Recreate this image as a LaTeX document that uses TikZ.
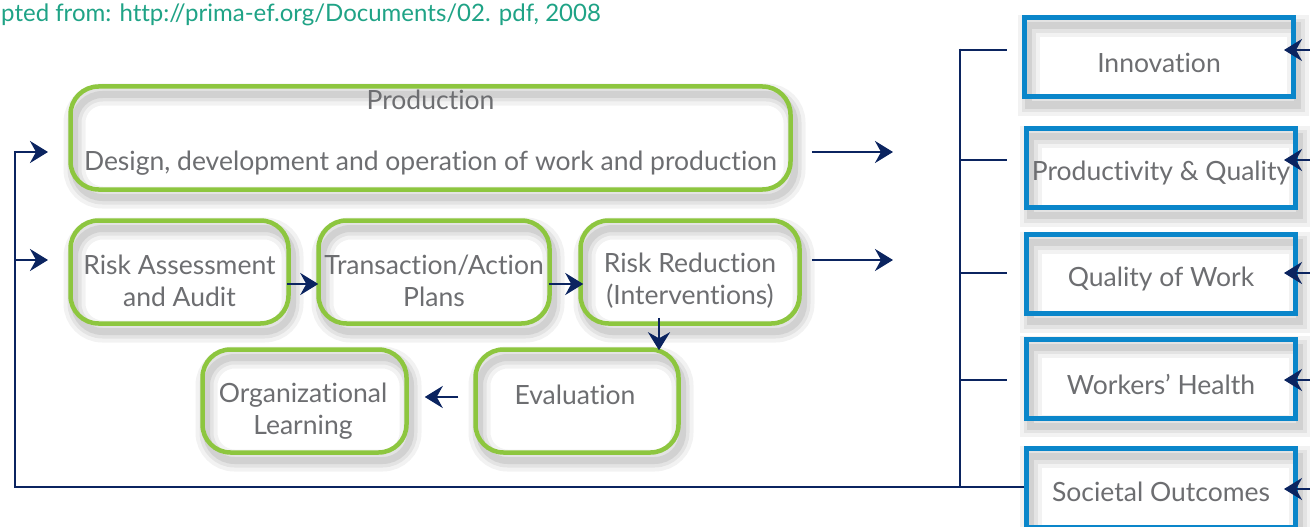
\documentclass[tikz,border=0pt]{standalone}
\usepackage{fontspec}
\setmainfont{Lato}[Ligatures={NoCommon,NoRare}]
\usetikzlibrary{arrows.meta}
\definecolor{gr}{HTML}{8DC63F}
\definecolor{bl}{HTML}{0A86CA}
\definecolor{nv}{HTML}{0B2460}
\definecolor{tx}{HTML}{6D6E71}
\definecolor{cap}{HTML}{1FA386}
\tikzset{
  softshadow/.style={
    preaction={draw=black, draw opacity=0.05, line width=22pt, transform canvas={shift={(4pt,-8pt)}}},
    preaction={draw=black, draw opacity=0.06, line width=14pt, transform canvas={shift={(4pt,-8pt)}}},
    preaction={draw=black, draw opacity=0.08, line width=7pt, transform canvas={shift={(4pt,-8pt)}}}},
  gbox/.style={softshadow, draw=gr, line width=4.5pt, rounded corners=28pt, inner sep=0pt},
  bbox/.style={softshadow, draw=bl, line width=5pt, inner sep=0pt, minimum width=269pt, minimum height=79pt},
  lbl/.style={text=tx, font=\fontsize{26.5}{32}\selectfont, align=center, inner sep=0pt},
  blbl/.style={text=tx, font=\fontsize{26.5}{32}\selectfont, inner sep=0pt},
  ln/.style={draw=nv, line width=2.5pt},
  arr/.style={draw=nv, line width=2.5pt, -{Stealth[length=18pt,width=22pt,inset=6pt]}},
}
\begin{document}
\begin{tikzpicture}[x=1pt,y=-1pt]
\useasboundingbox (0,0) rectangle (1310,527);
\fill[white] (0,0) rectangle (1310,527);

\node[anchor=base west, text=cap, font=\fontsize{24}{28}\selectfont, inner sep=0pt] (src) at (1,22) {pted from: http://prima-ef.org/Documents/02. pdf, 2008};

% green boxes
\node[gbox, minimum width=720pt, minimum height=103pt] (prod) at (430.5,138) {};
\node[lbl] (prodt) at (430.5,100) {Production};
\node[lbl] (prodd) at (430.5,163) {Design, development and operation of work and production};

\node[gbox, minimum width=218pt, minimum height=103pt] (ra) at (179.5,272) {};
\node[lbl] (rat) at (179.5,281) {Risk Assessment\\and Audit};
\node[gbox, minimum width=231pt, minimum height=103pt] (ta) at (434,272) {};
\node[lbl] (tat) at (434,281) {Transaction/Action\\Plans};
\node[gbox, minimum width=219pt, minimum height=103pt] (rr) at (690,272) {};
\node[lbl] (rrt) at (690,281) {Risk Reduction\\(Interventions)};
\node[gbox, minimum width=203pt, minimum height=103pt] (ev) at (577,401) {};
\node[lbl] (evt) at (575,395) {Evaluation};
\node[gbox, minimum width=204pt, minimum height=103pt] (ol) at (304.5,401) {};
\node[lbl] (olt) at (303,411) {Organizational\\Learning};

% blue boxes
\node[bbox] (inn) at (1159,57.5) {};
\node[blbl] (innt) at (1159,63) {Innovation};
\node[bbox] (pq) at (1161,168) {};
\node[blbl] (pqt) at (1161,173) {Productivity \& Quality};
\node[bbox] (qw) at (1161,274) {};
\node[blbl] (qwt) at (1161,279) {Quality of Work};
\node[bbox] (wh) at (1161,378.5) {};
\node[blbl] (wht) at (1161,384) {Workers’ Health};
\node[bbox] (so) at (1161,488) {};
\node[blbl] (sot) at (1161,492) {Societal Outcomes};

% internal arrows
\draw[arr] ([xshift=-4pt,yshift=-12pt]ra.east) -- ([xshift=2pt,yshift=-12pt]ta.west);
\draw[arr] ([xshift=-3pt,yshift=-12pt]ta.east) -- ([xshift=5pt,yshift=-12pt]rr.west);
\draw[arr] ([xshift=-31pt,yshift=8pt]rr.south) -- ([xshift=82pt,yshift=-3pt]ev.north);
\draw[arr] ([xshift=-15pt,yshift=4pt]ev.west) -- ([xshift=16pt,yshift=4pt]ol.east);

% outputs
\coordinate (pe) at (893,152);
\coordinate (re) at (893,260);
\draw[arr] ([xshift=19pt,yshift=-14pt]prod.east) -- (pe);
\draw[arr] ([xshift=10pt,yshift=12pt]rr.east) -- (re);

% feedback loop
\coordinate (fbb) at (15,487);
\coordinate (fbt) at (15,152);
\coordinate (fbm) at (15,260);
\coordinate (pin) at (48,152);
\coordinate (rin) at (48,260);
\draw[ln] (so.west |- fbb) -- (fbb) -- ([yshift=-1.25pt]fbt);
\draw[arr] ([xshift=-1.25pt]fbt) -- (pin);
\draw[arr] (fbm) -- (rin);

% bracket
\coordinate (bt) at (960,50);
\coordinate (bb) at (960,487);
\draw[ln] ([yshift=1.25pt]bt) -- (bb);
\coordinate (b1) at (960,160);
\coordinate (b2) at (960,273);
\coordinate (b3) at (960,380);
\draw[ln] ([xshift=-1.25pt]bt) -- ([xshift=-15pt,yshift=7.5pt]inn.west);
\draw[ln] (b1) -- ([xshift=-17pt,yshift=8pt]pq.west);
\draw[ln] (b2) -- ([xshift=-17pt,yshift=1pt]qw.west);
\draw[ln] (b3) -- ([xshift=-17pt,yshift=-1.5pt]wh.west);

% incoming arrows on the right
\coordinate (i1) at (1315,50);
\coordinate (i2) at (1315,160);
\coordinate (i3) at (1315,273);
\coordinate (i4) at (1315,380);
\coordinate (i5) at (1315,489);
\draw[arr] (i1) -- ([xshift=-12pt,yshift=7.5pt]inn.east);
\draw[arr] (i2) -- ([xshift=-14pt,yshift=8pt]pq.east);
\draw[arr] (i3) -- ([xshift=-14pt,yshift=1pt]qw.east);
\draw[arr] (i4) -- ([xshift=-14pt,yshift=-1.5pt]wh.east);
\draw[arr] (i5) -- ([xshift=-14pt,yshift=-1pt]so.east);
\end{tikzpicture}
\end{document}
